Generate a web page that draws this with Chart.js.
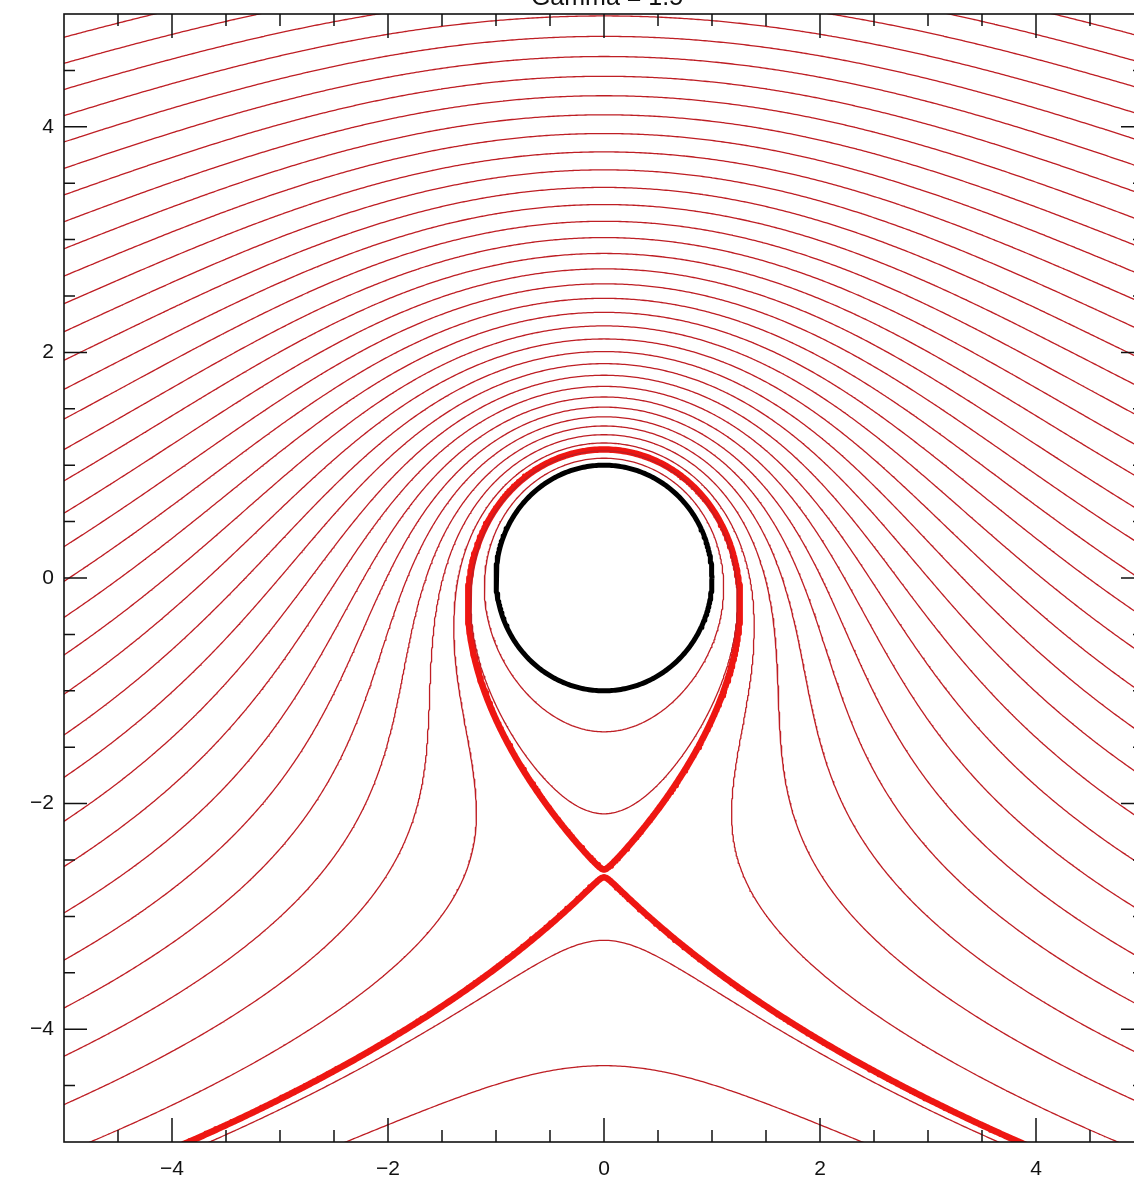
<!DOCTYPE html>
<html>
<head>
<meta charset="utf-8">
<title>Streamlines</title>
<script src="https://cdn.jsdelivr.net/npm/chart.js@4/dist/chart.umd.min.js"></script>
<style>
html, body { margin: 0; padding: 0; background: #fff; overflow: hidden; }
#wrap { position: absolute; left: 0; top: -30px; width: 1180px; height: 1230px; }
</style>
</head>
<body>
<div id="wrap"><canvas id="flow" width="1180" height="1230"></canvas></div>
<script>
// values
const titleText = 'Gamma = 1.5';
const gammaRatio = 1.5;        // circulation / (4 pi U a)
const cylinderRadius = 1;
const thinLevels = [0.3, 0.6, 0.9, 1.2, 1.5, 1.8, 2.1, 2.4, 2.7, 3.0, 3.3, 3.6,
  3.9, 4.2, 4.5, 4.8, 5.1, 5.4, 5.7, 6.0, 6.3, 6.6, 6.9, 7.2, 7.5, 7.8, 8.1,
  8.4, 8.7, 9.0, 9.3, 9.6, 9.9, 10.2, 10.5];
const thickLevels = [0.651];   // dividing streamline through the stagnation point
const xMajorTicks = [-4, -2, 0, 2, 4];
const yMajorTicks = [-4, -2, 0, 2, 4];
const xMinorTicks = [-4.5, -3.5, -3, -2.5, -1.5, -1, -0.5, 0.5, 1, 1.5, 2.5, 3, 3.5, 4.5];
const yMinorTicks = [-4.5, -3.5, -3, -2.5, -1.5, -1, -0.5, 0.5, 1, 1.5, 2.5, 3, 3.5, 4.5];

const fontFamily = '"Liberation Sans", "DejaVu Sans", sans-serif';

function streamValue(x, y) {
    const r2 = x * x + y * y;
    const a2 = cylinderRadius * cylinderRadius;
    if (r2 < a2) return -1;
    return y * (1 - a2 / r2) + gammaRatio * cylinderRadius * Math.log(r2 / a2);
}

// sample the stream function on a grid
const N = 480;
const lo = -5.1, hi = 5.1;
const step = (hi - lo) / N;
const W = N + 1;
const field = new Float64Array(W * W);
for (let j = 0; j <= N; j++) {
    for (let i = 0; i <= N; i++) {
        field[j * W + i] = streamValue(lo + i * step, lo + j * step);
    }
}

const caseTable = {1: [[3, 0]], 2: [[0, 1]], 3: [[3, 1]], 4: [[1, 2]], 6: [[0, 2]], 7: [[3, 2]],
    8: [[2, 3]], 9: [[0, 2]], 11: [[1, 2]], 12: [[1, 3]], 13: [[0, 1]], 14: [[3, 0]]};

function traceLevel(level) {
    const val = (i, j) => field[j * W + i];
    const pts = new Map();
    const byEdge = new Map();
    const segs = [];

    function cross(type, i, j) {
        const key = type === 'h' ? (j * W + i) * 2 : (j * W + i) * 2 + 1;
        if (!pts.has(key)) {
            const a = val(i, j);
            const b = type === 'h' ? val(i + 1, j) : val(i, j + 1);
            const t = (level - a) / (b - a);
            const x0 = lo + i * step, y0 = lo + j * step;
            pts.set(key, type === 'h' ? {x: x0 + t * step, y: y0} : {x: x0, y: y0 + t * step});
        }
        return key;
    }

    for (let j = 0; j < N; j++) {
        for (let i = 0; i < N; i++) {
            const v00 = val(i, j), v10 = val(i + 1, j), v11 = val(i + 1, j + 1), v01 = val(i, j + 1);
            const c = (v00 > level ? 1 : 0) | (v10 > level ? 2 : 0) | (v11 > level ? 4 : 0) | (v01 > level ? 8 : 0);
            if (c === 0 || c === 15) continue;
            let pairs;
            if (c === 5 || c === 10) {
                const mid = (v00 + v10 + v11 + v01) / 4 > level;
                if (c === 5) pairs = mid ? [[0, 1], [2, 3]] : [[3, 0], [1, 2]];
                else pairs = mid ? [[3, 0], [1, 2]] : [[0, 1], [2, 3]];
            } else {
                pairs = caseTable[c];
            }
            const edgeKey = e => e === 0 ? cross('h', i, j) : e === 1 ? cross('v', i + 1, j)
                : e === 2 ? cross('h', i, j + 1) : cross('v', i, j);
            for (const [ea, eb] of pairs) {
                const ka = edgeKey(ea), kb = edgeKey(eb);
                const id = segs.length;
                segs.push([ka, kb]);
                if (!byEdge.has(ka)) byEdge.set(ka, []);
                if (!byEdge.has(kb)) byEdge.set(kb, []);
                byEdge.get(ka).push(id);
                byEdge.get(kb).push(id);
            }
        }
    }

    const used = new Uint8Array(segs.length);
    function extend(chain) {
        let k = chain[chain.length - 1];
        while (true) {
            const next = (byEdge.get(k) || []).find(id => !used[id]);
            if (next === undefined) break;
            used[next] = 1;
            const s = segs[next];
            k = s[0] === k ? s[1] : s[0];
            chain.push(k);
        }
    }
    const lines = [];
    for (let s = 0; s < segs.length; s++) {
        if (used[s]) continue;
        used[s] = 1;
        let chain = [segs[s][0], segs[s][1]];
        extend(chain);
        chain.reverse();
        extend(chain);
        lines.push(chain.map(k => pts.get(k)));
    }
    return lines;
}

const datasets = [];
function addLevels(levels, color, width) {
    levels.forEach(level => {
        traceLevel(level).forEach(line => {
            datasets.push({
                data: line,
                showLine: true,
                borderColor: color,
                borderWidth: width,
                borderCapStyle: 'round',
                borderJoinStyle: 'round',
                pointRadius: 0,
                fill: false,
                tension: 0,
                clip: 0
            });
        });
    });
}
addLevels(thinLevels, 'rgb(190, 30, 36)', 1.3);
addLevels(thickLevels, 'rgb(238, 22, 18)', 6.5);

// cylinder outline
const circle = [];
for (let deg = 0; deg <= 360; deg += 1) {
    const t = deg * Math.PI / 180;
    circle.push({x: cylinderRadius * Math.cos(t), y: cylinderRadius * Math.sin(t)});
}
datasets.push({
    data: circle, showLine: true, borderColor: '#000', borderWidth: 5,
    borderJoinStyle: 'round', pointRadius: 0, fill: false, tension: 0, clip: 0
});

const fmt = v => v < 0 ? '\u2212' + Math.abs(v) : String(v);

const framePlugin = {
    id: 'frame',
    afterDraw(chart) {
        const {ctx, chartArea: a, scales: {x, y}} = chart;
        ctx.save();
        ctx.strokeStyle = '#111';
        ctx.lineWidth = 1.6;
        ctx.strokeRect(a.left, a.top, a.right - a.left, a.bottom - a.top);
        ctx.lineWidth = 1.5;
        function xTicks(vals, len) {
            vals.forEach(v => {
                const px = x.getPixelForValue(v);
                ctx.beginPath();
                ctx.moveTo(px, a.bottom); ctx.lineTo(px, a.bottom - len);
                ctx.moveTo(px, a.top); ctx.lineTo(px, a.top + len);
                ctx.stroke();
            });
        }
        function yTicks(vals, len) {
            vals.forEach(v => {
                const py = y.getPixelForValue(v);
                ctx.beginPath();
                ctx.moveTo(a.left, py); ctx.lineTo(a.left + len, py);
                ctx.moveTo(a.right, py); ctx.lineTo(a.right - len, py);
                ctx.stroke();
            });
        }
        xTicks(xMajorTicks, 24);
        xTicks(xMinorTicks, 12);
        yTicks(yMajorTicks, 23);
        yTicks(yMinorTicks, 11);

        ctx.fillStyle = '#111';
        ctx.font = '25px ' + fontFamily;
        ctx.textAlign = 'center';
        ctx.textBaseline = 'alphabetic';
        ctx.fillText(titleText, x.getPixelForValue(0) + 3, a.top - 9);
        ctx.restore();
    }
};

new Chart(document.getElementById('flow'), {
    type: 'scatter',
    data: {datasets: datasets},
    options: {
        responsive: false,
        animation: false,
        devicePixelRatio: 1,
        layout: {padding: {left: 0, right: 36, top: 44, bottom: 0}},
        plugins: {legend: {display: false}, tooltip: {enabled: false}},
        events: [],
        scales: {
            x: {
                type: 'linear', min: -5, max: 5,
                grid: {display: false, drawTicks: false},
                border: {display: false},
                ticks: {autoSkip: false, maxRotation: 0, padding: 15, color: '#111',
                    font: {size: 21, family: fontFamily}, callback: v => fmt(v)},
                afterBuildTicks: s => { s.ticks = xMajorTicks.map(v => ({value: v})); },
                afterFit: s => { s.height = 58; }
            },
            y: {
                type: 'linear', min: -5, max: 5,
                grid: {display: false, drawTicks: false},
                border: {display: false},
                ticks: {autoSkip: false, padding: 10, color: '#111',
                    font: {size: 21, family: fontFamily}, callback: v => fmt(v)},
                afterBuildTicks: s => { s.ticks = yMajorTicks.map(v => ({value: v})); },
                afterFit: s => { s.width = 64; }
            }
        }
    },
    plugins: [framePlugin]
});
</script>
</body>
</html>
